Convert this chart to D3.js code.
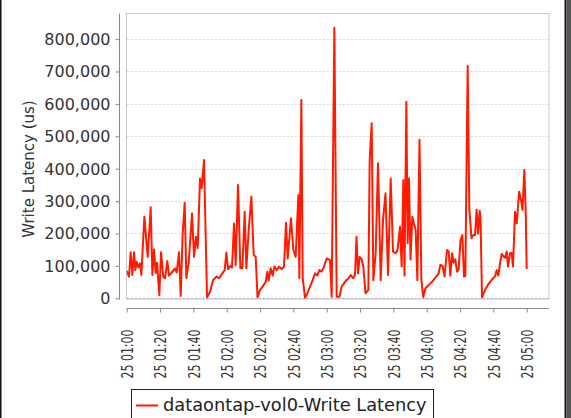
<!DOCTYPE html>
<html>
<head>
<meta charset="utf-8">
<script src="https://cdn.jsdelivr.net/npm/d3@7"></script>
<style>
  html, body { margin: 0; padding: 0; background: #fff; }
  svg { display: block; font-family: "DejaVu Sans", sans-serif; }
</style>
</head>
<body>
<svg id="chart" width="571" height="418"></svg>
<script>
// ---- data (minutes after 25 01:00, write latency in us) ----
const seriesName = "dataontap-vol0-Write Latency";
const yAxisTitle = "Write Latency (us)";
const minutesAfterStart = [
  0.0, 1.4, 2.4, 3.4, 4.4, 5.2, 6.0, 7.0, 8.0, 8.8, 10.6, 12.6, 14.4, 15.4, 16.4, 17.4, 18.2, 19.6, 20.6, 22.0,
  23.0, 24.4, 25.4, 27.4, 29.0, 30.0, 31.4, 32.4, 33.6, 34.8, 35.8, 37.2, 39.2, 40.4, 41.6, 42.6, 44.0, 45.0, 46.4, 48.2,
  50.0, 51.8, 53.8, 55.4, 57.4, 58.8, 59.8, 60.8, 62.2, 63.2, 64.4, 65.4, 66.8, 68.2, 69.4, 70.8, 71.8, 73.2, 74.8, 76.2,
  77.4, 78.5, 80.0, 81.6, 83.4, 84.4, 85.2, 86.4, 87.6, 88.6, 90.0, 91.4, 93.0, 94.4, 95.6, 96.6, 98.6, 100.0, 101.4, 103.0,
  103.6, 104.8, 105.6, 107.0, 108.4, 110.0, 111.6, 113.0, 114.4, 115.6, 117.0, 118.4, 120.0, 122.0, 123.0, 124.6, 126.0, 127.6, 129.0, 130.4,
  131.8, 133.0, 134.4, 135.8, 137.0, 137.9, 138.8, 139.8, 141.0, 142.0, 143.3, 145.0, 145.8, 147.0, 148.0, 149.4, 150.8, 152.4, 153.8, 155.3,
  156.8, 158.4, 159.8, 161.4, 162.5, 164.0, 165.0, 166.0, 166.7, 167.8, 168.6, 169.4, 170.3, 171.4, 172.4, 173.4, 174.4, 175.7, 176.8, 177.9,
  179.3, 181.1, 183.2, 185.0, 187.2, 188.2, 189.5, 190.7, 192.2, 193.2, 194.2, 195.2, 196.2, 197.2, 198.2, 199.2, 200.3, 201.4, 202.4, 203.2,
  204.6, 205.6, 206.9, 208.0, 209.0, 210.0, 210.8, 211.8, 212.3, 213.2, 215.0, 216.8, 219.0, 221.0, 222.0, 223.0, 224.0, 225.0, 226.0, 227.0,
  228.0, 228.8, 230.0, 231.0, 231.8, 233.0, 234.0, 235.5, 236.6, 237.5, 238.6, 239.4, 240.0
];
const latencyValues = [
  85000, 67000, 142000, 72000, 142000, 87000, 113000, 95000, 108000, 72000, 252000, 128000, 281000, 72000, 151000, 78000, 110000, 10000, 142000, 65000,
  62000, 115000, 70000, 82000, 92000, 80000, 142000, 7000, 200000, 295000, 62000, 110000, 262000, 128000, 190000, 155000, 370000, 340000, 427000, 3000,
  20000, 56000, 67000, 62000, 77000, 87000, 141000, 90000, 100000, 95000, 231000, 103000, 350000, 93000, 93000, 267000, 93000, 210000, 314000, 134000,
  128000, 3000, 26000, 36000, 51000, 82000, 55000, 93000, 70000, 98000, 87000, 98000, 90000, 98000, 233000, 123000, 247000, 150000, 128000, 319000,
  62000, 612000, 62000, 2000, 15000, 36000, 56000, 77000, 70000, 87000, 82000, 98000, 123000, 118000, 5000, 835000, 5000, 5000, 36000, 46000,
  56000, 61000, 72000, 62000, 72000, 190000, 77000, 128000, 120000, 98000, 15000, 26000, 427000, 540000, 56000, 139000, 417000, 56000, 242000, 324000,
  72000, 370000, 144000, 139000, 149000, 221000, 98000, 365000, 70000, 607000, 170000, 370000, 120000, 252000, 230000, 211000, 56000, 489000, 60000, 4000,
  31000, 40000, 51000, 62000, 77000, 103000, 100000, 67000, 149000, 145000, 70000, 139000, 110000, 120000, 82000, 90000, 180000, 195000, 67000, 70000,
  718000, 275000, 185000, 195000, 195000, 273000, 200000, 270000, 250000, 3000, 26000, 42000, 57000, 67000, 87000, 70000, 108000, 137000, 130000, 125000,
  144000, 98000, 139000, 140000, 98000, 267000, 231000, 329000, 303000, 273000, 396000, 273000, 90000
];
const yTickValues = [0, 100000, 200000, 300000, 400000, 500000, 600000, 700000, 800000];
const xTickLabels = ["25 01:00","25 01:20","25 01:40","25 02:00","25 02:20","25 02:40","25 03:00",
                     "25 03:20","25 03:40","25 04:00","25 04:20","25 04:40","25 05:00"];

// ---- build ----
const start = new Date(2013, 0, 25, 1, 0, 0);
const toDate = m => new Date(start.getTime() + m * 60000);
const data = minutesAfterStart.map((m, i) => ({ t: toDate(m), v: latencyValues[i] }));

const svg = d3.select("#chart");
const plot = { left: 126.7, right: 549, top: 13.5, bottom: 298.3 };

const x = d3.scaleTime()
  .domain([start, toDate(253.4)])
  .range([plot.left, plot.right]);
const y = d3.scaleLinear()
  .domain([0, 879000])
  .range([plot.bottom, plot.top]);

// background
svg.append("rect").attr("width", 571).attr("height", 418).attr("fill", "#fff");

// grid lines
svg.append("g").selectAll("line").data(yTickValues.filter(d => d > 0)).join("line")
  .attr("x1", plot.left).attr("x2", plot.right)
  .attr("y1", d => Math.round(y(d)) + 0.5).attr("y2", d => Math.round(y(d)) + 0.5)
  .attr("stroke", "#d4d4d4").attr("stroke-width", 1).attr("stroke-dasharray", "2,2");

// zero base line
svg.append("line")
  .attr("x1", plot.left).attr("x2", plot.right)
  .attr("y1", Math.round(y(0)) + 0.5).attr("y2", Math.round(y(0)) + 0.5)
  .attr("stroke", "#8c8cc8").attr("stroke-width", 1).attr("stroke-dasharray", "2,2");

// plot outline
svg.append("rect")
  .attr("x", 126.5).attr("y", 13.5)
  .attr("width", plot.right - 126.5).attr("height", 299 - 13.5)
  .attr("fill", "none").attr("stroke", "#c8c8c8").attr("stroke-width", 1);

// series line
svg.append("clipPath").attr("id", "clip").append("rect")
  .attr("x", plot.left).attr("y", plot.top).attr("width", plot.right - plot.left).attr("height", plot.bottom - plot.top + 2);
svg.append("path")
  .datum(data)
  .attr("clip-path", "url(#clip)")
  .attr("fill", "none")
  .attr("stroke", "#ff1a00")
  .attr("stroke-width", 2)
  .attr("stroke-linejoin", "round")
  .attr("d", d3.line().x(d => x(d.t)).y(d => y(d.v)));

// y axis
const yAxis = d3.axisLeft(y).tickValues(yTickValues).tickFormat(d3.format(",")).tickSize(4).tickPadding(5);
const gy = svg.append("g").attr("transform", "translate(119.5,0)").call(yAxis);
gy.select(".domain").attr("d", `M0,${plot.top}V${plot.bottom + 1}`).attr("stroke", "#888");
gy.selectAll(".tick line").attr("stroke", "#888");
gy.selectAll(".tick text").attr("font-size", 16).attr("font-family", "DejaVu Sans").attr("fill", "#333").attr("dy", "0.34em");

// x axis
const xTicks = xTickLabels.map((_, i) => toDate(i * 20));
const xAxis = d3.axisBottom(x).tickValues(xTicks).tickFormat((d, i) => xTickLabels[i]).tickSize(4).tickPadding(0);
const gx = svg.append("g").attr("transform", "translate(0,308.5)").call(xAxis);
gx.select(".domain").attr("d", `M${plot.left},0H${plot.right}`).attr("stroke", "#888");
gx.selectAll(".tick line").attr("stroke", "#888");
gx.selectAll(".tick text")
  .attr("font-size", 16).attr("font-family", "DejaVu Sans").attr("fill", "#333")
  .attr("text-anchor", "end")
  .attr("transform", "translate(0,21) rotate(-90)")
  .attr("x", 0).attr("y", 0).attr("dy", "0.36em")
  .attr("textLength", 49).attr("lengthAdjust", "spacingAndGlyphs");

// y axis title
svg.append("text")
  .attr("transform", "translate(33.5,169) rotate(-90)")
  .attr("text-anchor", "middle")
  .attr("font-size", 15).attr("fill", "#333")
  .text(yAxisTitle);

// legend
const lg = svg.append("g");
lg.append("rect").attr("x", 131.5).attr("y", 389.5).attr("width", 302).attr("height", 40)
  .attr("fill", "#fff").attr("stroke", "#222").attr("stroke-width", 1);
lg.append("line").attr("x1", 136).attr("x2", 158).attr("y1", 405.5).attr("y2", 405.5)
  .attr("stroke", "#ff1a00").attr("stroke-width", 2);
lg.append("text").attr("x", 163).attr("y", 411).attr("font-size", 17.8).attr("fill", "#222")
  .text(seriesName);

// window frame edges
svg.append("rect").attr("x", 0).attr("y", 0).attr("width", 1.5).attr("height", 418).attr("fill", "#111");
svg.append("rect").attr("x", 564.5).attr("y", 0).attr("width", 2).attr("height", 418).attr("fill", "#1a1a1a");
svg.append("rect").attr("x", 566.5).attr("y", 0).attr("width", 4.5).attr("height", 418).attr("fill", "#555");
</script>
</body>
</html>
